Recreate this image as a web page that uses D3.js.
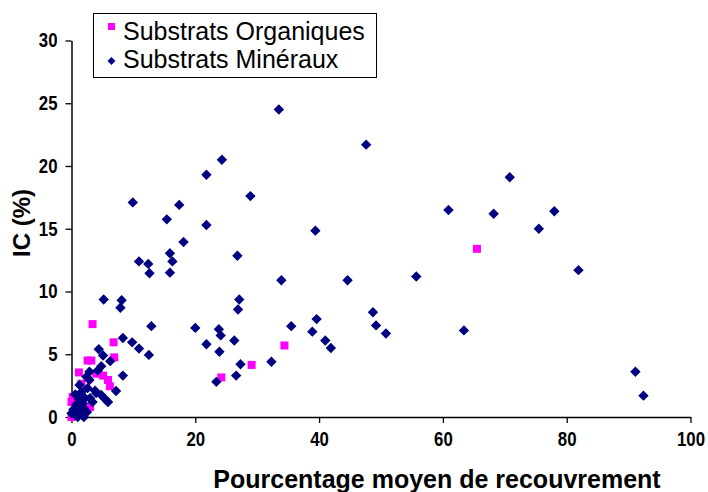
<!DOCTYPE html>
<html>
<head>
<meta charset="utf-8">
<script src="https://cdn.jsdelivr.net/npm/d3@7"></script>
<style>
body { margin: 0; background: #fff; }
svg { display: block; font-family: "Liberation Sans", Arial, sans-serif; }
</style>
</head>
<body>
<script>
"use strict";

// Substrats Organiques : [recouvrement %, IC %]
var organiques = [
	[3.4, 7.4], [6.8, 5.95], [6.9, 4.75], [2.6, 4.5], [3.2, 4.5], [1.2, 3.55],
	[4.0, 3.45], [5.1, 3.3], [5.9, 2.95], [6.2, 2.45], [1.6, 2.65], [0.2, 1.6],
	[0.0, 1.2], [0.75, 0.4], [3.0, 0.8], [0.0, 0.0], [1.5, 1.0],
	[65.5, 13.4], [34.4, 5.7], [29.1, 4.15], [24.2, 3.15]
];

// Substrats Minéraux
var mineraux = [
	[33.5, 24.5], [47.6, 21.7], [24.3, 20.5], [21.8, 19.3], [28.9, 17.6], [17.4, 16.9],
	[9.9, 17.1], [15.4, 15.75], [21.8, 15.3], [39.4, 14.85], [18.1, 13.95], [15.9, 13.05],
	[16.3, 12.4], [15.9, 11.5], [26.8, 12.85], [10.9, 12.4], [12.4, 12.2], [12.6, 11.45],
	[33.9, 10.9], [44.6, 10.9],
	[70.8, 19.1], [60.9, 16.5], [68.2, 16.2], [78.0, 16.4], [75.5, 15.0], [81.9, 11.7],
	[55.7, 11.2], [50.8, 6.65], [63.4, 6.9], [91.1, 3.6], [92.4, 1.7], [48.7, 8.35], [49.2, 7.3],
	[39.6, 7.8], [35.5, 7.24], [38.9, 6.8], [41.0, 6.1], [41.9, 5.5], [27.1, 9.36], [26.9, 8.57],
	[20.0, 7.1], [23.8, 7.0], [24.1, 6.5], [26.3, 6.1], [21.8, 5.8], [23.9, 5.2], [27.3, 4.2],
	[26.6, 3.3], [23.4, 2.8], [32.3, 4.4], [12.9, 7.24], [5.2, 9.36], [8.1, 9.3], [7.9, 8.7],
	[8.3, 6.3], [9.8, 5.95], [10.9, 5.45], [12.5, 4.95],
	[4.4, 5.4], [5.1, 4.9], [6.25, 4.45], [4.8, 4.05], [4.25, 3.7], [8.3, 3.3], [7.2, 2.07],
	[3.8, 2.1], [4.8, 1.75], [2.9, 2.95], [2.9, 3.6], [2.4, 3.2], [1.3, 2.55], [4.0, 1.9],
	[5.9, 1.2], [3.4, 1.2], [5.5, 1.4],
	[0.5, 0.2], [1.0, 0.5], [1.5, 0.3], [2.0, 0.7], [0.8, 1.0], [1.2, 1.4], [2.2, 1.5],
	[1.8, 1.1], [0.3, 0.6], [2.5, 0.4], [1.0, 0.0], [0.0, 0.3], [1.6, 2.0], [2.6, 2.3],
	[0.6, 1.8], [3.0, 1.5], [2.0, 0.0], [1.3, 0.8]
];

var xTicks = [0, 20, 40, 60, 80, 100];
var yTicks = [0, 5, 10, 15, 20, 25, 30];
var seriesNames = ["Substrats Organiques", "Substrats Minéraux"];

var width = 708, height = 492;

var svg = d3.select("body").append("svg")
	.attr("width", width)
	.attr("height", height);

var x = d3.scaleLinear().domain([0, 100]).range([71.5, 690.5]);
var y = d3.scaleLinear().domain([0, 30]).range([417, 40.5]);

// axes
var xAxis = svg.append("g")
	.attr("transform", "translate(0," + y(0) + ")")
	.call(d3.axisBottom(x).tickValues(xTicks).tickSize(6).tickPadding(9).tickSizeOuter(0));

var yAxis = svg.append("g")
	.attr("transform", "translate(" + x(0) + ",0)")
	.call(d3.axisLeft(y).tickValues(yTicks).tickSize(6).tickPadding(8).tickSizeOuter(0));

// tall narrow bold digits, like the original
var squeeze = 0.84;
[xAxis, yAxis].forEach(function (g) {
	g.select(".domain").attr("stroke", "#000").attr("stroke-width", 1.5);
	g.selectAll(".tick line").attr("stroke", "#000").attr("stroke-width", 1.3);
	g.selectAll(".tick text")
		.attr("fill", "#000")
		.attr("transform", "scale(" + squeeze + ",1)")
		.style("font-size", "20px")
		.style("font-weight", "bold")
		.style("font-family", "'Liberation Sans', Arial, sans-serif");
});
yAxis.selectAll(".tick text").attr("x", -14 / squeeze);

// points
var diamond = function (r) {
	return "M0," + (-r) + "L" + r + ",0L0," + r + "L" + (-r) + ",0Z";
};

svg.append("g").selectAll("rect")
	.data(organiques)
	.enter().append("rect")
	.attr("x", function (d) { return x(d[0]) - 4; })
	.attr("y", function (d) { return y(d[1]) - 4; })
	.attr("width", 8)
	.attr("height", 8)
	.attr("fill", "#ff00ff");

svg.append("g").selectAll("path")
	.data(mineraux)
	.enter().append("path")
	.attr("transform", function (d) { return "translate(" + x(d[0]) + "," + y(d[1]) + ")"; })
	.attr("d", diamond(5.2))
	.attr("fill", "#000080");

// axis titles
svg.append("text")
	.attr("x", 437)
	.attr("y", 488)
	.attr("text-anchor", "middle")
	.style("font-size", "25px")
	.style("font-weight", "bold")
	.text("Pourcentage moyen de recouvrement");

svg.append("text")
	.attr("transform", "translate(30,223) rotate(-90)")
	.attr("text-anchor", "middle")
	.style("font-size", "24px")
	.style("font-weight", "bold")
	.text("IC (%)");

// legend
var legend = svg.append("g");

legend.append("rect")
	.attr("x", 93.5)
	.attr("y", 13.5)
	.attr("width", 283)
	.attr("height", 64)
	.attr("fill", "#fff")
	.attr("stroke", "#000")
	.attr("stroke-width", 1);

legend.append("rect")
	.attr("x", 108)
	.attr("y", 23)
	.attr("width", 7)
	.attr("height", 7)
	.attr("fill", "#ff00ff");

legend.append("path")
	.attr("transform", "translate(111.5,61)")
	.attr("d", diamond(4))
	.attr("fill", "#000080");

legend.selectAll("text")
	.data(seriesNames)
	.enter().append("text")
	.attr("x", 123)
	.attr("y", function (d, i) { return 40 + i * 28; })
	.style("font-size", "25px")
	.text(function (d) { return d; });
</script>
</body>
</html>
